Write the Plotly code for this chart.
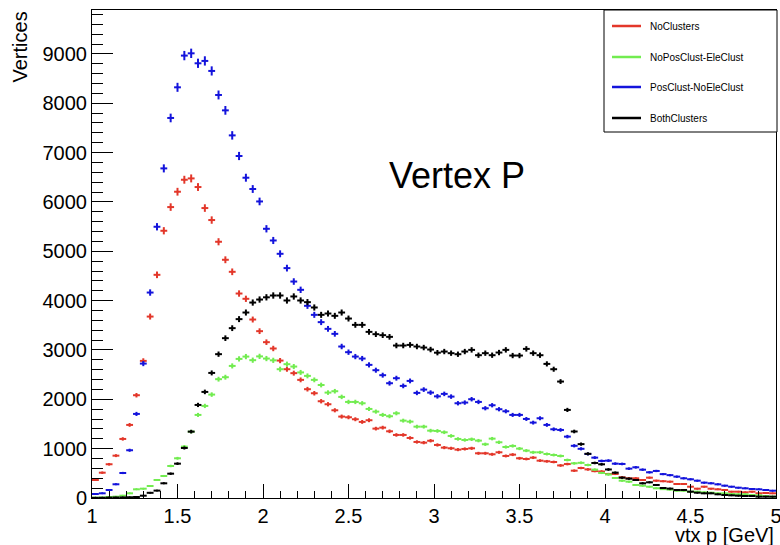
import numpy as np
import plotly.graph_objects as go

# bin centres: 100 bins of width 0.04 from 1 to 5
bin_lo = 1.0
bin_w = 0.04
n_bins = 100
centers = [round(bin_lo + bin_w * (i + 0.5), 3) for i in range(n_bins)]

no_clusters = [
    365, 513, 684, 858, 1197, 1481, 2083, 2779, 3677, 4523,
    5416, 5896, 6207, 6450, 6477, 6302, 5876, 5633, 5193, 4828,
    4584, 4144, 4037, 3617, 3381, 3158, 3030, 2785, 2610, 2530,
    2394, 2205, 2123, 1961, 1900, 1778, 1650, 1636, 1596, 1542,
    1576, 1406, 1426, 1352, 1278, 1278, 1217, 1136, 1122, 1160,
    1075, 1021, 1007, 980, 994, 1007, 906, 906, 886, 926,
    852, 879, 805, 791, 818, 757, 744, 730, 660, 688,
    554, 608, 580, 545, 537, 487, 487, 419, 399, 399,
    365, 412, 351, 340, 331, 284, 284, 229, 189, 229,
    189, 176, 162, 128, 128, 115, 128, 95, 101, 95,
]

no_pos_ele = [
    7, 10, 20, 27, 47, 95, 176, 189, 243, 365,
    446, 649, 805, 1041, 1345, 1684, 1866, 2096, 2408, 2448,
    2677, 2819, 2866, 2793, 2870, 2826, 2790, 2610, 2712, 2664,
    2545, 2475, 2394, 2290, 2136, 2164, 2049, 1947, 1947, 1920,
    1805, 1751, 1684, 1657, 1717, 1568, 1548, 1446, 1446, 1365,
    1359, 1332, 1258, 1197, 1176, 1190, 1163, 1089, 1203, 1129,
    1034, 1055, 1001, 960, 926, 926, 892, 872, 852, 770,
    703, 713, 669, 575, 508, 477, 406, 351, 331, 264,
    250, 229, 197, 180, 170, 148, 148, 128, 128, 115,
    108, 95, 95, 81, 75, 75, 61, 54, 41, 27,
]

pos_no_ele = [
    81, 95, 162, 278, 507, 968, 1704, 2724, 4164, 5497,
    6680, 7702, 8323, 8966, 9012, 8810, 8858, 8655, 8168, 7856,
    7349, 6931, 6491, 6262, 6010, 5456, 5219, 4949, 4659, 4387,
    4219, 3895, 3712, 3564, 3428, 3327, 3070, 2955, 2866, 2826,
    2698, 2590, 2489, 2326, 2428, 2272, 2373, 2130, 2197, 2136,
    2060, 2110, 2055, 1920, 1934, 2002, 1947, 1819, 1880, 1799,
    1758, 1684, 1684, 1602, 1528, 1616, 1481, 1393, 1379, 1244,
    1058, 997, 892, 818, 751, 757, 696, 690, 595, 622,
    574, 521, 548, 484, 463, 433, 399, 379, 351, 311,
    298, 277, 250, 229, 209, 196, 183, 176, 162, 148,
]

both_clusters = [
    3, 5, 8, 10, 12, 15, 20, 47, 105, 150,
    298, 493, 696, 1014, 1345, 1886, 2150, 2535, 2915, 3239,
    3442, 3625, 3759, 3961, 4022, 4067, 4104, 4104, 4003, 4084,
    4003, 3969, 3861, 3712, 3739, 3692, 3759, 3637, 3509, 3509,
    3367, 3320, 3300, 3266, 3090, 3090, 3103, 3070, 3049, 3009,
    2945, 2968, 2935, 2914, 2968, 3002, 2894, 2935, 2894, 2948,
    3002, 2887, 2887, 3022, 2935, 2894, 2718, 2610, 2360, 1785,
    1348, 1092, 896, 710, 683, 578, 514, 412, 392, 365,
    298, 318, 264, 203, 190, 162, 162, 128, 108, 95,
    95, 75, 61, 54, 47, 41, 41, 27, 27, 27,
]

series_names = ["NoClusters", "NoPosClust-EleClust", "PosClust-NoEleClust", "BothClusters"]
series_vals = [no_clusters, no_pos_ele, pos_no_ele, both_clusters]
series_cols = ["#e3372a", "#72ec50", "#1414dc", "#000000"]

x_ticks = [1, 1.5, 2, 2.5, 3, 3.5, 4, 4.5, 5]
x_tick_text = ["1", "1.5", "2", "2.5", "3", "3.5", "4", "4.5", "5"]
y_ticks = [0, 1000, 2000, 3000, 4000, 5000, 6000, 7000, 8000, 9000]
y_tick_text = [str(v) for v in y_ticks]

FONT = "Liberation Sans, Arial, Helvetica, sans-serif"

fig = go.Figure()
for name, vals, col in zip(series_names, series_vals, series_cols):
    v = np.array(vals, dtype=float)
    fig.add_trace(go.Scatter(
        x=centers, y=v, mode="markers", name=name,
        marker=dict(size=2, color=col, line=dict(width=0)),
        error_x=dict(type="constant", value=bin_w / 2, thickness=2, width=0, color=col),
        error_y=dict(type="data", array=np.sqrt(v), thickness=2, width=0, color=col),
        showlegend=False, hoverinfo="skip",
    ))

# plot area in pixels: x 92..776, y 10..498
L, R, T, B = 92, 4, 10, 47
W, H = 780, 545
pw, ph = W - L - R, H - T - B

def px(xp):
    return (xp - L) / pw

def py(yp):
    return (H - B - yp) / ph

shapes = []
annotations = []
# legend box
shapes.append(dict(type="rect", xref="paper", yref="paper",
                   x0=px(604), x1=px(777), y0=py(132), y1=py(10),
                   line=dict(color="black", width=1), fillcolor="white", layer="above"))
leg_y = [26, 57, 87, 118]
for name, col, yy in zip(series_names, series_cols, leg_y):
    shapes.append(dict(type="line", xref="paper", yref="paper",
                       x0=px(612), x1=px(641), y0=py(yy), y1=py(yy),
                       line=dict(color=col, width=2.5), layer="above"))
    annotations.append(dict(xref="paper", yref="paper", x=px(648), y=py(yy),
                            text=name, showarrow=False, xanchor="left", yanchor="middle",
                            font=dict(family=FONT, size=10, color="black")))

annotations.append(dict(xref="paper", yref="paper", x=px(457), y=py(175), text="Vertex P",
                        showarrow=False, xanchor="center", yanchor="middle",
                        font=dict(family=FONT, size=36, color="black")))
annotations.append(dict(xref="paper", yref="paper", x=px(19), y=1.0, text="Vertices",
                        showarrow=False, textangle=-90, xanchor="center", yanchor="top",
                        font=dict(family=FONT, size=20, color="black")))
annotations.append(dict(xref="paper", yref="paper", x=1.0, y=py(535), text="vtx p [GeV]",
                        showarrow=False, xanchor="right", yanchor="middle",
                        font=dict(family=FONT, size=20, color="black")))

fig.update_layout(
    width=W, height=H,
    margin=dict(l=L, r=R, t=T, b=B, pad=0, autoexpand=False),
    paper_bgcolor="white", plot_bgcolor="white",
    showlegend=False,
    shapes=shapes, annotations=annotations,
    font=dict(family=FONT, size=20, color="black"),
)
fig.update_xaxes(
    range=[1, 5], tickmode="array", tickvals=x_ticks, ticktext=x_tick_text,
    ticks="inside", ticklen=14, tickwidth=1, tickcolor="black",
    ticklabeloverflow="allow", automargin=False,
    minor=dict(dtick=0.1, tick0=1, ticks="inside", ticklen=7, tickwidth=1, tickcolor="black"),
    showgrid=False, zeroline=False, showline=True, linecolor="black", linewidth=1, mirror=True,
    tickfont=dict(family=FONT, size=20, color="black"),
)
fig.update_yaxes(
    range=[0, 9890], tickmode="array", tickvals=y_ticks, ticktext=y_tick_text,
    ticks="inside", ticklen=21, tickwidth=1, tickcolor="black", automargin=False,
    minor=dict(dtick=200, tick0=0, ticks="inside", ticklen=11, tickwidth=1, tickcolor="black"),
    showgrid=False, zeroline=False, showline=True, linecolor="black", linewidth=1, mirror=True,
    tickfont=dict(family=FONT, size=20, color="black"),
)

fig.write_html("out.html")
